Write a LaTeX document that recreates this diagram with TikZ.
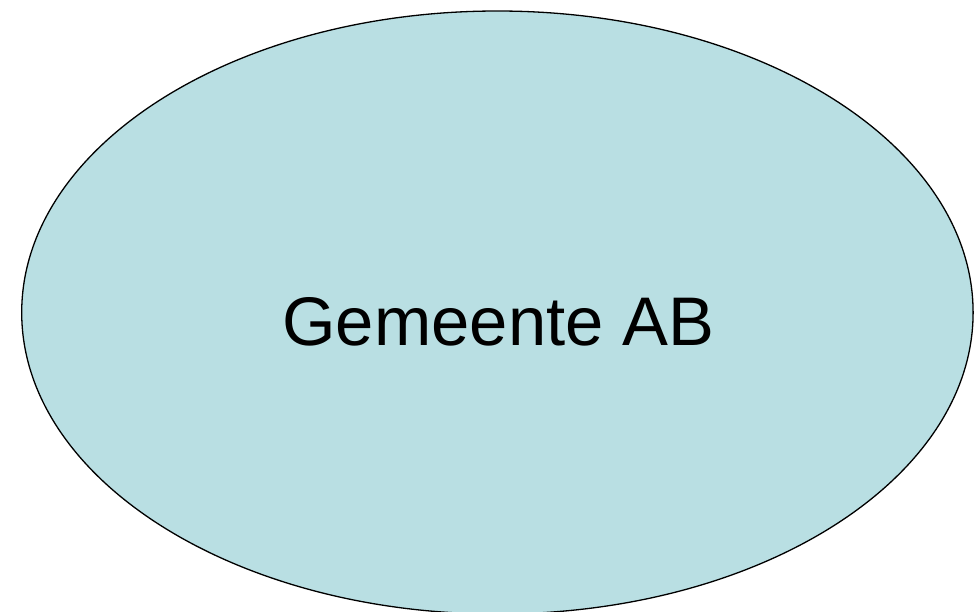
\documentclass[tikz,border=0pt]{standalone}
\usepackage{fontspec}
\setmainfont{Liberation Sans}
\definecolor{fillblue}{HTML}{B9DFE3}
\begin{document}
\begin{tikzpicture}[x=1pt,y=-1pt,
  blob/.style={draw=black,line width=1.3pt,fill=fillblue},
  label/.style={font=\fontsize{68.8}{76}\selectfont,text=black,anchor=base,inner sep=0pt}]
\useasboundingbox (0,0) rectangle (979,611);
\begin{scope}
\clip (0,0) rectangle (979,611);
\draw[blob] (497.4,312.5) ellipse [x radius=475.7, y radius=301.5];
\end{scope}
\node[label] (t) at (498.5,345) {Gemeente AB};
\end{tikzpicture}
\end{document}
